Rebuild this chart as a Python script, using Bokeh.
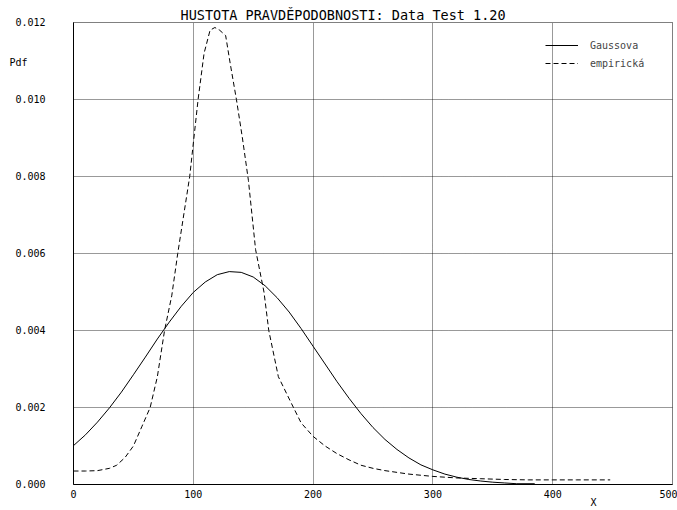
from bokeh.plotting import figure
from bokeh.models import (Range1d, FixedTicker, PrintfTickFormatter, Legend, LegendItem,
                          LinearAxis, Title)
from bokeh.embed import file_html
from bokeh.resources import INLINE

# --- data ---
title_text = "HUSTOTA PRAVDĚPODOBNOSTI: Data Test 1.20"
y_label = "Pdf"
x_label = "X"
gauss_x = [0, 10, 20, 30, 40, 50, 60, 70, 80, 90,
           100, 110, 120, 130, 140, 150, 160, 170, 180, 190,
           200, 210, 220, 230, 240, 250, 260, 270, 280, 290,
           300, 310, 320, 330, 340, 350, 360, 370, 385]
gauss_y = [0.00101, 0.00129, 0.00162, 0.00199, 0.00240, 0.00285, 0.00331, 0.00378, 0.00422, 0.00463,
           0.00499, 0.00526, 0.00545, 0.00553, 0.00551, 0.00539, 0.00516, 0.00485, 0.00448, 0.00405,
           0.00359, 0.00313, 0.00267, 0.00224, 0.00184, 0.00148, 0.00117, 0.00091, 0.00069, 0.00051,
           0.00038, 0.00027, 0.00019, 0.00013, 0.00009, 0.00006, 0.00004, 0.00002, 0.00002]
emp_x = [0, 10, 20, 30, 36, 43, 50, 57, 64, 70,
         76, 82, 87, 92, 97, 104, 109, 114, 118, 122,
         127, 131, 136, 141, 146, 152, 159, 163, 171, 182,
         190, 200, 210, 220, 230, 240, 250, 260, 280, 300,
         320, 340, 360, 380, 400, 420, 448]
emp_y = [0.00035, 0.00035, 0.00036, 0.00042, 0.0005, 0.0007, 0.0010, 0.0015, 0.0020, 0.0028,
         0.0040, 0.0049, 0.0060, 0.0070, 0.0080, 0.0100, 0.0112, 0.0118, 0.01187, 0.0118,
         0.01166, 0.0109, 0.0100, 0.0090, 0.0079, 0.0061, 0.0050, 0.0040, 0.0028, 0.0021,
         0.0016, 0.00125, 0.0010, 0.0008, 0.00064, 0.0005, 0.00042, 0.00036, 0.00027, 0.00021,
         0.00017, 0.00015, 0.00013, 0.00012, 0.00012, 0.00012, 0.00012]
x_ticks = [0, 100, 200, 300, 400, 500]
y_ticks = [0.0, 0.002, 0.004, 0.006, 0.008, 0.010, 0.012]
series_names = ["Gaussova", "empirická"]
y_label_at = 0.01096   # where the "Pdf" caption sits on the y scale
x_label_at = 434       # where the "X" caption sits on the x scale

FONT = "DejaVu Sans Mono"
NB = "\u00a0"

p = figure(width=677, height=510, output_backend="svg", toolbar_location=None,
           x_range=Range1d(0, 500), y_range=Range1d(0, 0.012),
           min_border_left=73, min_border_right=5, min_border_top=22, min_border_bottom=26)
p.title = Title(text=title_text, align="left", offset=107, standoff=0,
                text_font=FONT, text_font_size="13.5px", text_font_style="normal",
                text_color="black")
p.background_fill_color = "white"
p.border_fill_color = "white"
p.outline_line_color = "black"
p.outline_line_dash = "1 1"
p.outline_line_width = 1

g = p.line(gauss_x, gauss_y, line_color="black", line_width=1)
e = p.line(emp_x, emp_y, line_color="black", line_width=1, line_dash="5 3")

def style_axis(ax):
    ax.major_tick_line_color = None
    ax.minor_tick_line_color = None
    ax.major_tick_out = 0
    ax.major_tick_in = 0
    ax.minor_tick_out = 0
    ax.minor_tick_in = 0
    ax.major_label_text_font = FONT
    ax.major_label_text_font_size = "10px"
    ax.major_label_text_color = "black"

for ax in (p.xaxis[0], p.yaxis[0]):
    style_axis(ax)
    ax.axis_line_color = "black"
    ax.axis_line_width = 1

p.xaxis.ticker = FixedTicker(ticks=x_ticks)
p.yaxis.ticker = FixedTicker(ticks=y_ticks + [y_label_at])
p.yaxis.formatter = PrintfTickFormatter(format="%.3f")
p.yaxis.major_label_overrides = {y_label_at: y_label + NB * 3}
p.xaxis.major_label_standoff = 5
p.yaxis.major_label_standoff = 28

# caption "X" below the tick labels
xcap = LinearAxis(ticker=FixedTicker(ticks=[x_label_at]), major_label_overrides={x_label_at: x_label})
style_axis(xcap)
xcap.axis_line_color = None
xcap.major_label_standoff = -4
p.add_layout(xcap, "below")

p.xgrid.ticker = FixedTicker(ticks=x_ticks)
p.ygrid.ticker = FixedTicker(ticks=y_ticks)
for gr in (p.xgrid[0], p.ygrid[0]):
    gr.grid_line_color = "black"
    gr.grid_line_dash = "1 1"
    gr.grid_line_width = 1
    gr.grid_line_alpha = 0.8

legend = Legend(items=[LegendItem(label=series_names[0], renderers=[g]),
                       LegendItem(label=series_names[1], renderers=[e])],
                location=(472, 412), padding=0, margin=0, spacing=0,
                label_height=18, glyph_height=18, glyph_width=33, label_standoff=12,
                background_fill_alpha=0, border_line_alpha=0,
                label_text_font=FONT, label_text_font_size="10px")
p.add_layout(legend)

open("out.html", "w").write(file_html(p, INLINE))
